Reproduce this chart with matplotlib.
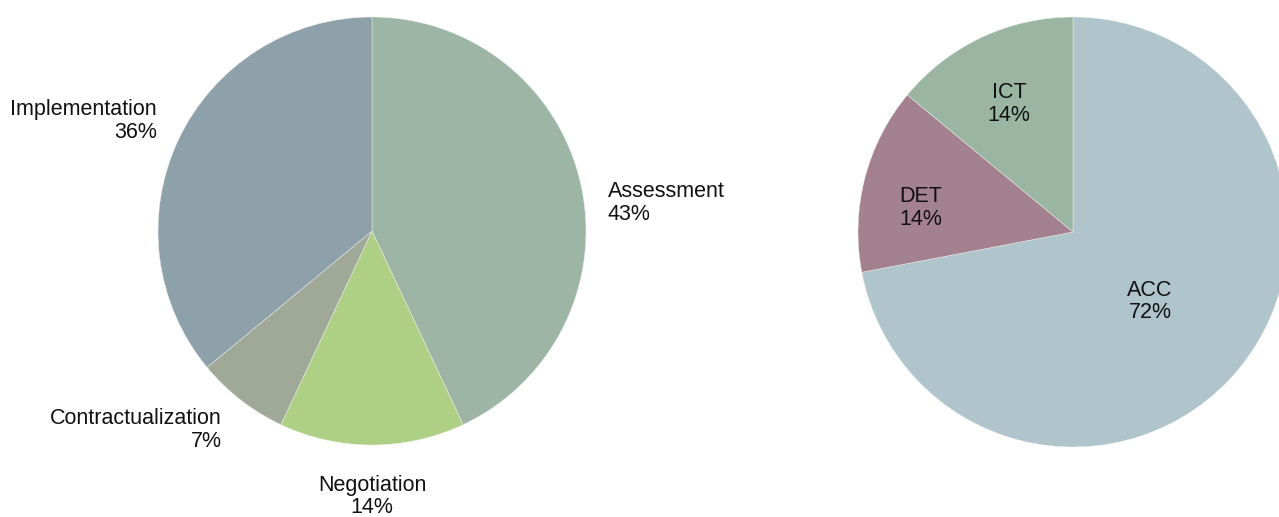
import matplotlib
matplotlib.use("Agg")
import matplotlib.pyplot as plt

# Phase breakdown (left pie)
phase_labels = ["Assessment", "Negotiation", "Contractualization", "Implementation"]
phase_values = [43, 14, 7, 36]
phase_colors = ["#9DB5A5", "#ADD085", "#A0A898", "#8EA1AB"]

# Category breakdown (right pie)
cat_labels = ["ACC", "DET", "ICT"]
cat_values = [72, 14, 14]
cat_colors = ["#B0C4CC", "#A3818F", "#9BB5A3"]

W, H = 1279, 517
fig = plt.figure(figsize=(W / 100, H / 100), dpi=100)
ax = fig.add_axes([0, 0, 1, 1])


def py(y):
    """Convert a top-down pixel row into the axes' bottom-up coordinate."""
    return H - y


wedge_style = dict(edgecolor="#f2f2f2", linewidth=0.3)

ax.pie(phase_values, colors=phase_colors, startangle=90, counterclock=False,
       center=(372, py(231)), radius=214, wedgeprops=wedge_style, frame=True)
ax.pie(cat_values, colors=cat_colors, startangle=90, counterclock=False,
       center=(1073, py(232)), radius=215, wedgeprops=wedge_style, frame=True)
ax.set_xlim(0, W)
ax.set_ylim(0, H)
ax.set_aspect("equal")
ax.axis("off")

font = dict(family=["Liberation Sans", "DejaVu Sans"], fontsize=15.5, color="#111111")
line_gap = 22.5

# label placement: (x, first baseline, horizontal alignment)
phase_pos = {
    "Assessment": (608, 197, "left"),
    "Negotiation": (372, 490.5, "center"),
    "Contractualization": (222, 424.5, "right"),
    "Implementation": (157, 115, "right"),
}
cat_pos = {
    "ACC": (1150, 295.5, "center"),
    "DET": (921, 202.5, "center"),
    "ICT": (1009, 98.5, "center"),
}


def put_label(name, value, pos):
    x, yb, ha = pos
    ax.text(x, py(yb), name, ha=ha, va="baseline", **font)
    ax.text(x, py(yb + line_gap), f"{value}%", ha=ha, va="baseline", **font)


for n, v in zip(phase_labels, phase_values):
    put_label(n, v, phase_pos[n])
for n, v in zip(cat_labels, cat_values):
    put_label(n, v, cat_pos[n])

fig.savefig("out.png", dpi=100, facecolor="white")
